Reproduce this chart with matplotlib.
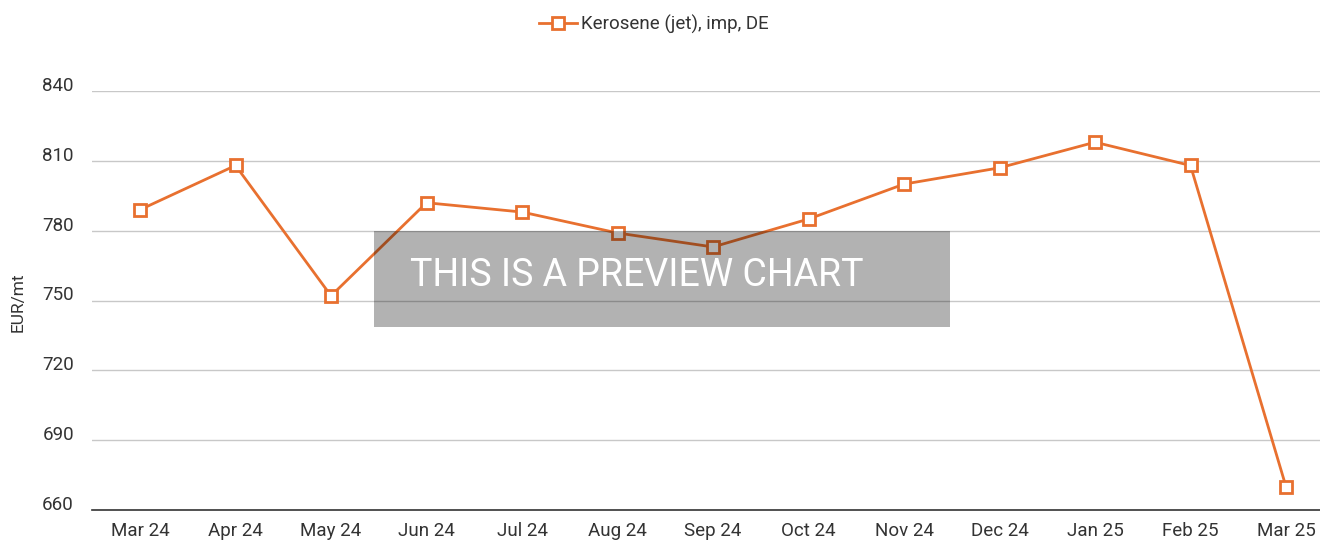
import matplotlib.pyplot as plt
import matplotlib.patches as mpatches
import numpy as np

plt.rcParams['font.family'] = ['Roboto', 'DejaVu Sans']

months = ["Mar 24", "Apr 24", "May 24", "Jun 24", "Jul 24", "Aug 24", "Sep 24",
          "Oct 24", "Nov 24", "Dec 24", "Jan 25", "Feb 25", "Mar 25"]
kerosene = [789, 808, 752, 792, 788, 779, 773, 785, 800, 807, 818, 808, 670]
y_ticks = [660, 690, 720, 750, 780, 810, 840]
series_label = "Kerosene (jet), imp, DE"

line_color = "#E8702F"
text_color = "#333333"

fig = plt.figure(figsize=(13.2, 5.41), dpi=100)
ax = fig.add_axes([92 / 1320, 31 / 541, (1320 - 92) / 1320, (510 - 91) / 541])

x = np.arange(len(months))
ax.plot(x, kerosene, color=line_color, linewidth=2, marker='s', markersize=8,
        markerfacecolor='white', markeredgecolor=line_color, markeredgewidth=2,
        label=series_label, zorder=3)

ax.set_xlim(-0.503, 12.356)
ax.set_ylim(660, 840)
ax.set_yticks(y_ticks)
ax.set_xticks(x)
ax.set_xticklabels(months)
ax.grid(axis='y', color='#c8c8c8', linewidth=1)
ax.set_axisbelow(True)
for s in ['top', 'right', 'left']:
    ax.spines[s].set_visible(False)
ax.spines['bottom'].set_color('#333333')
ax.spines['bottom'].set_linewidth(1.2)
ax.tick_params(axis='both', length=0, labelsize=13.5, colors=text_color)
ax.tick_params(axis='y', pad=13)
ax.tick_params(axis='x', pad=9)
for lbl in ax.get_yticklabels():
    lbl.set_verticalalignment('baseline')

fig.text(18 / 1320, 1 - 302 / 541, "EUR/mt", rotation=90, ha='center', va='center',
         fontsize=12.5, color=text_color)

ax.legend(loc='upper center', bbox_to_anchor=(0.5 - 52 / 1228, 1 + 93 / 419), frameon=False,
          fontsize=13.5, handlelength=2, handletextpad=0.25, labelcolor=text_color)

# preview watermark
rect = mpatches.Rectangle((374 / 1320, 1 - 327 / 541), (950 - 374) / 1320, (327 - 231) / 541,
                          transform=fig.transFigure, facecolor='black', alpha=0.3,
                          edgecolor='none', zorder=10)
fig.patches.append(rect)
fig.text(410 / 1320, 1 - 276 / 541, "THIS IS A PREVIEW CHART", color='white',
         fontsize=27, fontweight='normal', ha='left', va='center', zorder=11)

fig.savefig("out.png", dpi=100)
